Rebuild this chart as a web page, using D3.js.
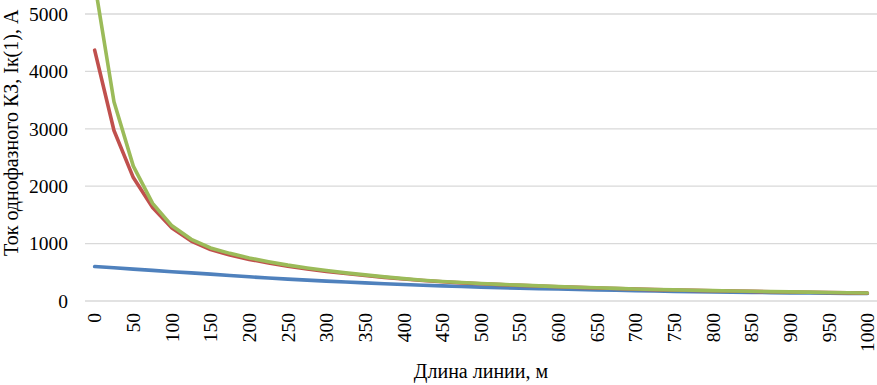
<!DOCTYPE html>
<html><head><meta charset="utf-8">
<script src="https://cdn.jsdelivr.net/npm/d3@7"></script>
<style>body{margin:0;background:#fff}svg{display:block}</style>
</head><body>
<svg id="c" width="877" height="385"></svg>
<script>
const lengths = [0,25,50,75,100,125,150,175,200,225,250,275,300,325,350,375,400,425,450,475,500,525,550,575,600,625,650,675,700,725,750,775,800,825,850,875,900,925,950,975,1000];
const tickLabels = [0,50,100,150,200,250,300,350,400,450,500,550,600,650,700,750,800,850,900,950,1000];
const yTicks = [0,1000,2000,3000,4000,5000];
const blueValues = [600,578,556,533,510,490,468,445,422,400,381,363,346,330,315,301,288,275,263,252,242,233,224,216,208,200,193,186,179,173,168,163,158,154,150,146,142,139,136,133,130];
const redValues = [4370,2970,2150,1630,1270,1045,895,800,725,662,605,558,515,478,444,412,384,357,335,316,300,285,272,260,248,237,227,217,207,199,192,185,179,173,167,162,157,152,147,142,137];
const greenValues = [5540,3470,2350,1700,1310,1075,925,830,750,685,625,575,530,490,455,420,390,362,340,321,304,289,276,263,251,240,230,220,209,201,194,187,181,175,169,164,159,154,149,144,139];
const seriesColors = ["#4F81BD","#C0504D","#9BBB59"];

const svg = d3.select("#c");
const font = "'Liberation Serif','Times New Roman',serif";
const x = d3.scaleBand().domain(lengths).range([85,877]);
const y = d3.scaleLinear().domain([0,5000]).range([301,14]);
const cx = d => x(d) + x.bandwidth()/2;

svg.append("g").selectAll("line").data(yTicks).join("line")
  .attr("x1",85).attr("x2",877)
  .attr("y1",d=>y(d)).attr("y2",d=>y(d))
  .attr("stroke","#d9d9d9").attr("stroke-width",1.3);

svg.append("g").selectAll("text").data(yTicks).join("text")
  .attr("x",68).attr("y",d=>y(d)).attr("dy","0.35em")
  .attr("text-anchor","end").attr("font-family",font).attr("font-size",19.5)
  .attr("fill","#000").text(d=>d);

svg.append("g").selectAll("text").data(tickLabels).join("text")
  .attr("transform",d=>`translate(${cx(d)},313) rotate(-90)`)
  .attr("dy","0.35em").attr("text-anchor","end")
  .attr("font-family",font).attr("font-size",19.5).attr("fill","#000").text(d=>d);

const line = d3.line().x((d,i)=>cx(lengths[i])).y(d=>y(d));
[blueValues,redValues,greenValues].forEach((vals,k)=>{
  svg.append("path").datum(vals).attr("d",line)
    .attr("fill","none").attr("stroke",seriesColors[k])
    .attr("stroke-width",3.6).attr("stroke-linejoin","round").attr("stroke-linecap","round");
});

svg.append("text").attr("x",481).attr("y",378).attr("text-anchor","middle")
  .attr("font-family",font).attr("font-size",20).attr("fill","#000").text("Длина линии, м");
svg.append("text").attr("transform","translate(18,256) rotate(-90)")
  .attr("text-anchor","start").attr("font-family",font).attr("font-size",20)
  .attr("fill","#000").text("Ток однофазного КЗ, Iк(1), А");
</script>
</body></html>
